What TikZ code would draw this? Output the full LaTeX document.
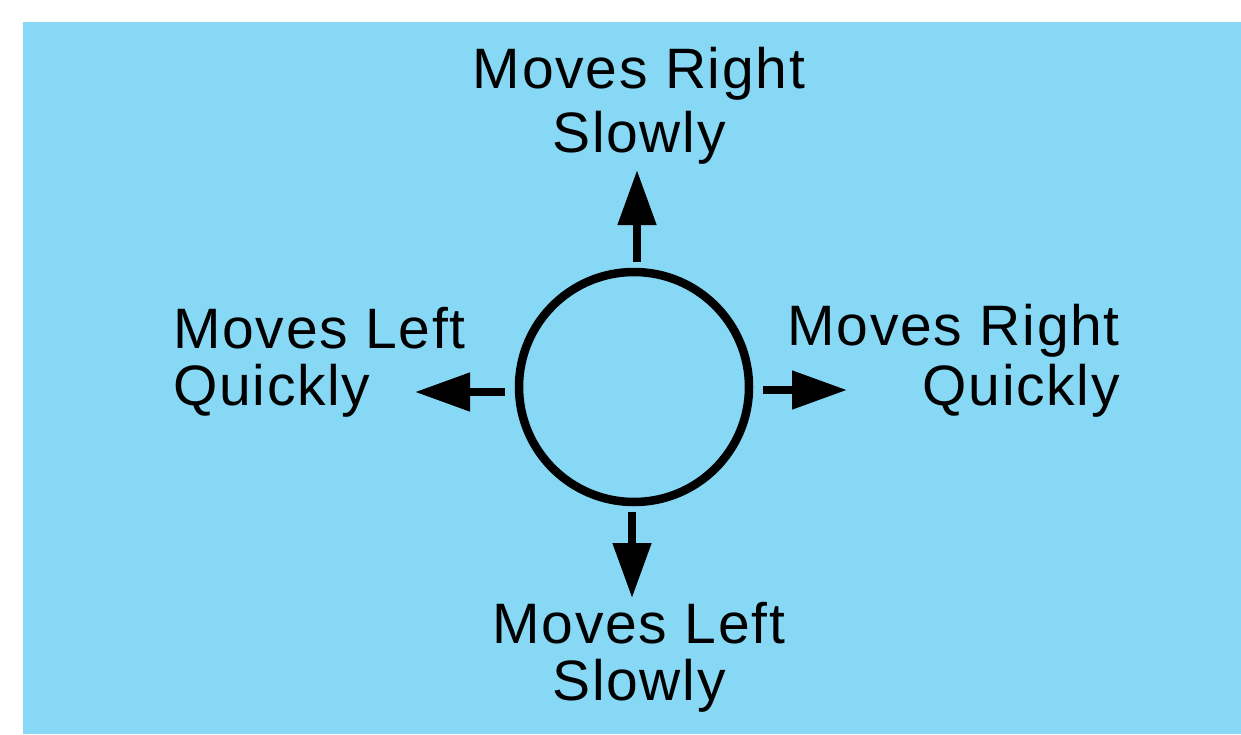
\documentclass[tikz,border=0pt]{standalone}
\usepackage{fontspec}
\setmainfont{Liberation Sans}[LetterSpace=3]
\usetikzlibrary{arrows.meta}
\definecolor{bgblue}{RGB}{134,216,244}
\tikzset{
  lbl/.style={inner sep=0pt, font=\fontsize{57}{60}\selectfont},
  arr/.style={line width=8pt, -{Triangle[length=55pt,width=37pt]}},
}
\begin{document}
\begin{tikzpicture}[x=1pt,y=-1pt]
\useasboundingbox (0,0) rectangle (1241,734);
\fill[bgblue] (23,22) rectangle (1241,734);
\node[draw, line width=8.5pt, circle, minimum size=230pt, inner sep=0pt, outer sep=4pt] (c) at (634,387) {};
\node[lbl, anchor=base] (top) at (639,88) {\begin{tabular}[t]{@{}c@{}}Moves Right\\[4pt]Slowly\end{tabular}};
\node[lbl, anchor=base west] (left) at (173,348) {\begin{tabular}[t]{@{}l@{}}Moves Left\\[-3pt]Quickly\end{tabular}};
\node[lbl, anchor=base east] (right) at (1120,345) {\begin{tabular}[t]{@{}r@{}}Moves Right\\Quickly\end{tabular}};
\node[lbl, anchor=base] (bottom) at (639,643) {\begin{tabular}[t]{@{}c@{}}Moves Left\\[-3pt]Slowly\end{tabular}};
\coordinate (tN) at (637,170);
\coordinate (tW) at (415,392);
\coordinate (tE) at (847,390);
\coordinate (tS) at (632,598);
\draw[arr, shorten <=6pt] ([xshift=3pt]c.north) -- (tN);
\draw[arr, shorten <=10pt] ([yshift=-5pt]c.west) -- (tW);
\draw[arr, shorten <=10pt] ([yshift=-3pt]c.east) -- (tE);
\draw[arr, shorten <=6pt] ([xshift=-2pt]c.south) -- (tS);
\end{tikzpicture}
\end{document}
